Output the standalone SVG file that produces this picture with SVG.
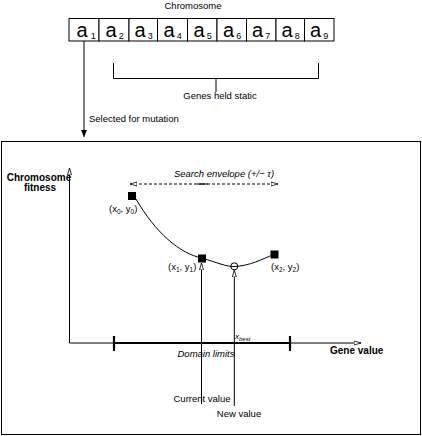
<svg xmlns="http://www.w3.org/2000/svg" width="422" height="436" viewBox="0 0 422 436">
<defs>
<style>
text{font-family:"Liberation Sans",Arial,sans-serif;fill:#000}
.lbl{font-size:9.5px}
.b{font-size:10px;font-weight:bold}
.i{font-size:9.5px;font-style:italic}
.ln{stroke:#000;stroke-width:1;fill:none}
.cell{fill:#fff;stroke:#000;stroke-width:1}
.ga{font-size:20px}
.gs{font-size:9px}
</style>
<marker id="ah" markerWidth="8" markerHeight="6" refX="7" refY="3" orient="auto" markerUnits="userSpaceOnUse">
<path d="M0,0 L7,3 L0,6 Z" fill="#000"/>
</marker>
<marker id="oh" markerWidth="8" markerHeight="6" refX="7" refY="3" orient="auto" markerUnits="userSpaceOnUse">
<path d="M0,1 L7,3 L0,5 Z" fill="#fff" stroke="#000" stroke-width="0.8"/>
</marker>
</defs>
<rect width="422" height="436" fill="#fff"/>

<g id="chromosome">
<text class="lbl" x="193" y="9" text-anchor="middle">Chromosome</text>
<rect class="cell" x="69" y="18.5" width="30" height="22.5"/>
<rect class="cell" x="99" y="18.5" width="30" height="22.5"/>
<rect class="cell" x="129" y="18.5" width="28.5" height="22.5"/>
<rect class="cell" x="157.5" y="18.5" width="30" height="22.5"/>
<rect class="cell" x="187.5" y="18.5" width="29.5" height="22.5"/>
<rect class="cell" x="217" y="18.5" width="29.5" height="22.5"/>
<rect class="cell" x="246.5" y="18.5" width="29.5" height="22.5"/>
<rect class="cell" x="276" y="18.5" width="28.5" height="22.5"/>
<rect class="cell" x="304.5" y="18.5" width="29.5" height="22.5"/>
<text x="76.5" y="37"><tspan class="ga">a</tspan><tspan class="gs" dx="3" dy="2">1</tspan></text>
<text x="105.5" y="37"><tspan class="ga">a</tspan><tspan class="gs" dx="2" dy="2">2</tspan></text>
<text x="134.5" y="37"><tspan class="ga">a</tspan><tspan class="gs" dx="2" dy="2">3</tspan></text>
<text x="163.5" y="37"><tspan class="ga">a</tspan><tspan class="gs" dx="2" dy="2">4</tspan></text>
<text x="193.5" y="37"><tspan class="ga">a</tspan><tspan class="gs" dx="2" dy="2">5</tspan></text>
<text x="223" y="37"><tspan class="ga">a</tspan><tspan class="gs" dx="2" dy="2">6</tspan></text>
<text x="252" y="37"><tspan class="ga">a</tspan><tspan class="gs" dx="2" dy="2">7</tspan></text>
<text x="281.5" y="37"><tspan class="ga">a</tspan><tspan class="gs" dx="2" dy="2">8</tspan></text>
<text x="310" y="37"><tspan class="ga">a</tspan><tspan class="gs" dx="2" dy="2">9</tspan></text>
</g>

<g id="static-bracket">
<path class="ln" d="M113.5,63 V78.5 H318.5 V63 M216,78.5 V92"/>
<text class="lbl" x="220" y="99" text-anchor="middle">Genes held static</text>
</g>

<g id="selected-label">
<text class="lbl" x="89" y="122">Selected for mutation</text>
</g>

<g id="frame">
<rect x="1.5" y="141.5" width="419" height="293" fill="none" stroke="#000" stroke-width="1"/>
</g>

<g id="axes">
<text class="b" x="39" y="181" text-anchor="middle">Chromosome</text>
<text class="b" x="40" y="191" text-anchor="middle">fitness</text>
<text class="b" x="330" y="354">Gene value</text>
</g>

<g id="domain">
<path d="M114,343 H290 M114,336 V351 M290,336 V351" stroke="#000" stroke-width="2.2" fill="none"/>
<text class="i" x="206" y="357" text-anchor="middle">Domain limits</text>
</g>

<g id="envelope">
<text class="i" x="224" y="177" text-anchor="middle">Search envelope (+/− τ)</text>
</g>

<g id="points">
<rect x="128" y="192" width="8" height="8" fill="#000"/>
<rect x="198" y="254.5" width="8" height="8" fill="#000"/>
<rect x="270.5" y="250.5" width="8" height="8" fill="#000"/>
<circle cx="234.3" cy="266.3" r="3.5" fill="#fff" stroke="#000" stroke-width="1"/>
<text class="lbl" x="109" y="212">(x<tspan font-size="6.5" dy="2">0</tspan><tspan dy="-2">, y</tspan><tspan font-size="6.5" dy="2">0</tspan><tspan dy="-2">)</tspan></text>
<text class="lbl" x="168" y="270">(x<tspan font-size="6.5" dy="2">1</tspan><tspan dy="-2">, y</tspan><tspan font-size="6.5" dy="2">1</tspan><tspan dy="-2">)</tspan></text>
<text class="lbl" x="271" y="270">(x<tspan font-size="6.5" dy="2">2</tspan><tspan dy="-2">, y</tspan><tspan font-size="6.5" dy="2">2</tspan><tspan dy="-2">)</tspan></text>
<text x="235" y="339" font-size="8" font-style="italic">x<tspan font-size="6" dy="1.5">best</tspan></text>
</g>

<g id="value-labels">
<text class="lbl" x="202" y="402" text-anchor="middle">Current value</text>
<text class="lbl" x="239" y="417" text-anchor="middle">New value</text>
</g>

<g id="connectors">
<path class="ln" d="M84,41 V137" marker-end="url(#ah)"/>
<path class="ln" d="M69.5,343 V168" marker-end="url(#oh)"/>
<path class="ln" d="M69.5,343 H361" marker-end="url(#oh)"/>
<path class="ln" d="M202,184 H130" stroke-dasharray="3,2" marker-end="url(#oh)"/>
<path class="ln" d="M202,184 H278" stroke-dasharray="3,2" marker-end="url(#oh)"/>
<path class="ln" d="M197,184 H208"/>
<path class="ln" d="M136,199 C155,232 180,254 202,258 C218,263 226,266.5 234,266.5 C250,266 262,259 274,254.5"/>
<path class="ln" d="M201.5,404 V263" marker-end="url(#oh)"/>
<path class="ln" d="M234.3,406 V270" marker-end="url(#oh)"/>
</g>
</svg>
